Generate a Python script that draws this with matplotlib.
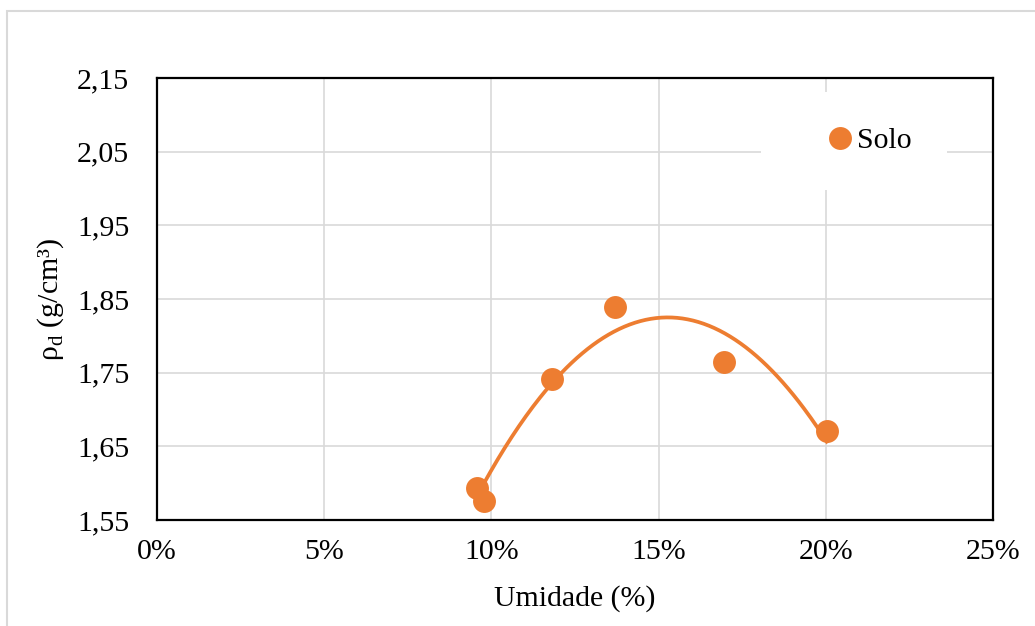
import numpy as np
import matplotlib
matplotlib.use('Agg')
import matplotlib.pyplot as plt
from matplotlib.ticker import FuncFormatter
from matplotlib.patches import Rectangle

# leitura do grafico: umidade (%) e massa especifica seca (g/cm3)
umidade = [9.56, 9.79, 11.81, 13.70, 16.95, 20.03]
rho_d = [1.593, 1.576, 1.742, 1.839, 1.764, 1.671]

x_ticks = [0, 5, 10, 15, 20, 25]
y_ticks = [1.55, 1.65, 1.75, 1.85, 1.95, 2.05, 2.15]

laranja = '#ED7D31'
fs = 21.5

plt.rcParams['font.family'] = ['Liberation Serif', 'DejaVu Serif']
plt.rcParams['mathtext.fontset'] = 'custom'
plt.rcParams['mathtext.rm'] = 'Liberation Serif'
plt.rcParams['font.size'] = fs

fig = plt.figure(figsize=(10.35, 6.26), dpi=100)
fig.patches.append(Rectangle((7/1035, -0.1), 1.2, 1 - 11/626 + 0.1,
                             transform=fig.transFigure, fill=False,
                             edgecolor='#D9D9D9', lw=1.5))
ax = fig.add_axes([157/1035, 1 - 520/626, 836/1035, 442/626])

# linha de tendencia polinomial (ordem 2), como no Excel
coef = np.polyfit(umidade, rho_d, 2)
xt = np.linspace(min(umidade), max(umidade), 200)
ax.plot(xt, np.polyval(coef, xt), color=laranja, lw=2.7, zorder=2)
ax.plot(umidade, rho_d, 'o', color=laranja, ms=16.5, mec='none',
        label='Solo', zorder=3)

ax.set_xlim(0, 25)
ax.set_ylim(1.55, 2.15)
ax.set_xticks(x_ticks)
ax.set_yticks(y_ticks)
ax.xaxis.set_major_formatter(FuncFormatter(lambda v, p: f'{v:.0f}%'))
ax.yaxis.set_major_formatter(FuncFormatter(lambda v, p: f'{v:.2f}'.replace('.', ',')))
ax.tick_params(length=0, labelsize=fs)
ax.tick_params(axis='x', pad=14)
ax.tick_params(axis='y', pad=20)
ax.grid(True, color='#D9D9D9', lw=1.2)
ax.set_axisbelow(True)
for s in ax.spines.values():
    s.set_linewidth(1.6)
    s.set_color('black')

ax.set_xlabel('Umidade (%)', fontsize=fs, labelpad=14)
ax.set_ylabel('ρ$_\\mathrm{d}$ (g/cm³)', fontsize=fs, labelpad=8)

leg = ax.legend(loc='center', bbox_to_anchor=(854/1035, 1 - 141/626),
                bbox_transform=fig.transFigure, frameon=True, fancybox=False,
                borderpad=1.2, handlelength=2.9, handletextpad=-0.9,
                fontsize=fs)
leg.get_frame().set_facecolor('white')
leg.get_frame().set_edgecolor('none')
leg.get_frame().set_alpha(1)

fig.savefig('out.png', dpi=100)
